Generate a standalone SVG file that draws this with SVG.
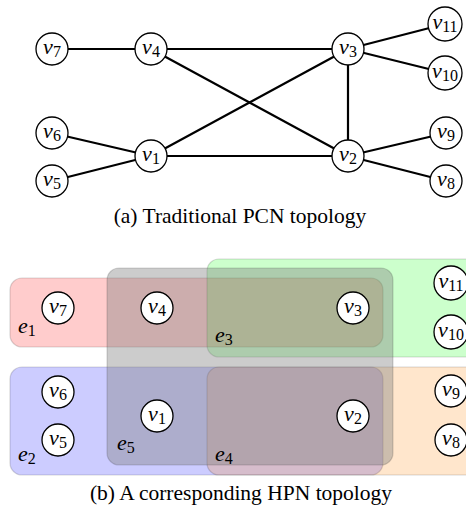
<svg xmlns="http://www.w3.org/2000/svg" width="466" height="511" viewBox="0 0 466 511">
  <style>
    .edge { stroke: #000; stroke-width: 2.2; fill: none; stroke-linecap: round; }
    .node circle { fill: #fff; stroke: #000; stroke-width: 1.3; }
    .lbl { font-family: "Liberation Serif", "Times New Roman", serif; font-size: 22px; text-anchor: middle; fill: #000; }
    .v { font-style: italic; }
    .sub { font-size: 16px; }
    .cap { font-family: "Liberation Serif", "Times New Roman", serif; font-size: 21.5px; text-anchor: middle; fill: #000; }
    .he rect { stroke: #000; stroke-opacity: 0.15; stroke-width: 1.2; }
    .elbl { font-family: "Liberation Serif", "Times New Roman", serif; font-size: 22px; fill: #000; }
  </style>

  <!-- (a) PCN graph: edges -->
  <g id="connectors">
    <line class="edge" x1="52" y1="49" x2="151" y2="49"/>
    <line class="edge" x1="151" y1="49" x2="348" y2="49"/>
    <line class="edge" x1="151" y1="49" x2="348" y2="156"/>
    <line class="edge" x1="151" y1="156" x2="348" y2="49"/>
    <line class="edge" x1="348" y1="49" x2="348" y2="156"/>
    <line class="edge" x1="348" y1="49" x2="445" y2="24"/>
    <line class="edge" x1="348" y1="49" x2="445" y2="73"/>
    <line class="edge" x1="52" y1="133" x2="151" y2="156"/>
    <line class="edge" x1="52" y1="181" x2="151" y2="156"/>
    <line class="edge" x1="151" y1="156" x2="348" y2="156"/>
    <line class="edge" x1="348" y1="156" x2="446" y2="133"/>
    <line class="edge" x1="348" y1="156" x2="446" y2="181"/>
  </g>

  <!-- (a) PCN graph: nodes -->
  <g id="a-v7" class="node"><circle cx="52" cy="49" r="16"/><text class="lbl" x="52" y="54"><tspan class="v">v</tspan><tspan class="sub" dy="3">7</tspan></text></g>
  <g id="a-v4" class="node"><circle cx="151" cy="49" r="16"/><text class="lbl" x="151" y="54"><tspan class="v">v</tspan><tspan class="sub" dy="3">4</tspan></text></g>
  <g id="a-v3" class="node"><circle cx="348" cy="49" r="16"/><text class="lbl" x="348" y="54"><tspan class="v">v</tspan><tspan class="sub" dy="3">3</tspan></text></g>
  <g id="a-v11" class="node"><circle cx="445" cy="24" r="17"/><text class="lbl" x="445" y="29"><tspan class="v">v</tspan><tspan class="sub" dy="3">11</tspan></text></g>
  <g id="a-v10" class="node"><circle cx="445" cy="73" r="17"/><text class="lbl" x="445" y="78"><tspan class="v">v</tspan><tspan class="sub" dy="3">10</tspan></text></g>
  <g id="a-v6" class="node"><circle cx="52" cy="133" r="16"/><text class="lbl" x="52" y="138"><tspan class="v">v</tspan><tspan class="sub" dy="3">6</tspan></text></g>
  <g id="a-v5" class="node"><circle cx="52" cy="181" r="16"/><text class="lbl" x="52" y="186"><tspan class="v">v</tspan><tspan class="sub" dy="3">5</tspan></text></g>
  <g id="a-v1" class="node"><circle cx="151" cy="156" r="16"/><text class="lbl" x="151" y="161"><tspan class="v">v</tspan><tspan class="sub" dy="3">1</tspan></text></g>
  <g id="a-v2" class="node"><circle cx="348" cy="156" r="16"/><text class="lbl" x="348" y="161"><tspan class="v">v</tspan><tspan class="sub" dy="3">2</tspan></text></g>
  <g id="a-v9" class="node"><circle cx="446" cy="133" r="16"/><text class="lbl" x="446" y="138"><tspan class="v">v</tspan><tspan class="sub" dy="3">9</tspan></text></g>
  <g id="a-v8" class="node"><circle cx="446" cy="181" r="16"/><text class="lbl" x="446" y="186"><tspan class="v">v</tspan><tspan class="sub" dy="3">8</tspan></text></g>

  <text class="cap" x="240" y="223">(a) Traditional PCN topology</text>

  <!-- (b) HPN: hyperedges as translucent rounded boxes -->
  <g id="e1" class="he"><rect x="10" y="278" width="373" height="69" rx="12" fill="#ff0000" fill-opacity="0.2"/></g>
  <g id="e2" class="he"><rect x="10" y="367" width="373" height="108" rx="12" fill="#0000ff" fill-opacity="0.2"/></g>
  <g id="e3" class="he"><rect x="207" y="259" width="280" height="98" rx="12" fill="#00ff00" fill-opacity="0.2"/></g>
  <g id="e4" class="he"><rect x="207" y="367" width="280" height="108" rx="12" fill="#ff8000" fill-opacity="0.2"/></g>
  <g id="e5" class="he"><rect x="107" y="268" width="286" height="197" rx="12" fill="#808080" fill-opacity="0.4"/></g>

  <g id="edge-labels">
    <text class="elbl" x="18" y="333"><tspan class="v">e</tspan><tspan class="sub" dy="3">1</tspan></text>
    <text class="elbl" x="18" y="461"><tspan class="v">e</tspan><tspan class="sub" dy="3">2</tspan></text>
    <text class="elbl" x="215" y="342"><tspan class="v">e</tspan><tspan class="sub" dy="3">3</tspan></text>
    <text class="elbl" x="215" y="461"><tspan class="v">e</tspan><tspan class="sub" dy="3">4</tspan></text>
    <text class="elbl" x="117" y="450"><tspan class="v">e</tspan><tspan class="sub" dy="3">5</tspan></text>
  </g>

  <!-- (b) HPN: nodes -->
  <g id="b-v7" class="node"><circle cx="58" cy="308" r="16"/><text class="lbl" x="58" y="313"><tspan class="v">v</tspan><tspan class="sub" dy="3">7</tspan></text></g>
  <g id="b-v4" class="node"><circle cx="157" cy="308" r="16"/><text class="lbl" x="157" y="313"><tspan class="v">v</tspan><tspan class="sub" dy="3">4</tspan></text></g>
  <g id="b-v3" class="node"><circle cx="353" cy="308" r="16"/><text class="lbl" x="353" y="313"><tspan class="v">v</tspan><tspan class="sub" dy="3">3</tspan></text></g>
  <g id="b-v11" class="node"><circle cx="451" cy="283" r="17"/><text class="lbl" x="451" y="288"><tspan class="v">v</tspan><tspan class="sub" dy="3">11</tspan></text></g>
  <g id="b-v10" class="node"><circle cx="451" cy="332" r="17"/><text class="lbl" x="451" y="337"><tspan class="v">v</tspan><tspan class="sub" dy="3">10</tspan></text></g>
  <g id="b-v6" class="node"><circle cx="58" cy="392" r="16"/><text class="lbl" x="58" y="397"><tspan class="v">v</tspan><tspan class="sub" dy="3">6</tspan></text></g>
  <g id="b-v5" class="node"><circle cx="58" cy="440" r="16"/><text class="lbl" x="58" y="445"><tspan class="v">v</tspan><tspan class="sub" dy="3">5</tspan></text></g>
  <g id="b-v1" class="node"><circle cx="157" cy="416" r="16"/><text class="lbl" x="157" y="421"><tspan class="v">v</tspan><tspan class="sub" dy="3">1</tspan></text></g>
  <g id="b-v2" class="node"><circle cx="353" cy="416" r="16"/><text class="lbl" x="353" y="421"><tspan class="v">v</tspan><tspan class="sub" dy="3">2</tspan></text></g>
  <g id="b-v9" class="node"><circle cx="451" cy="391" r="16"/><text class="lbl" x="451" y="396"><tspan class="v">v</tspan><tspan class="sub" dy="3">9</tspan></text></g>
  <g id="b-v8" class="node"><circle cx="451" cy="440" r="16"/><text class="lbl" x="451" y="445"><tspan class="v">v</tspan><tspan class="sub" dy="3">8</tspan></text></g>

  <text class="cap" x="241" y="500">(b) A corresponding HPN topology</text>
</svg>
